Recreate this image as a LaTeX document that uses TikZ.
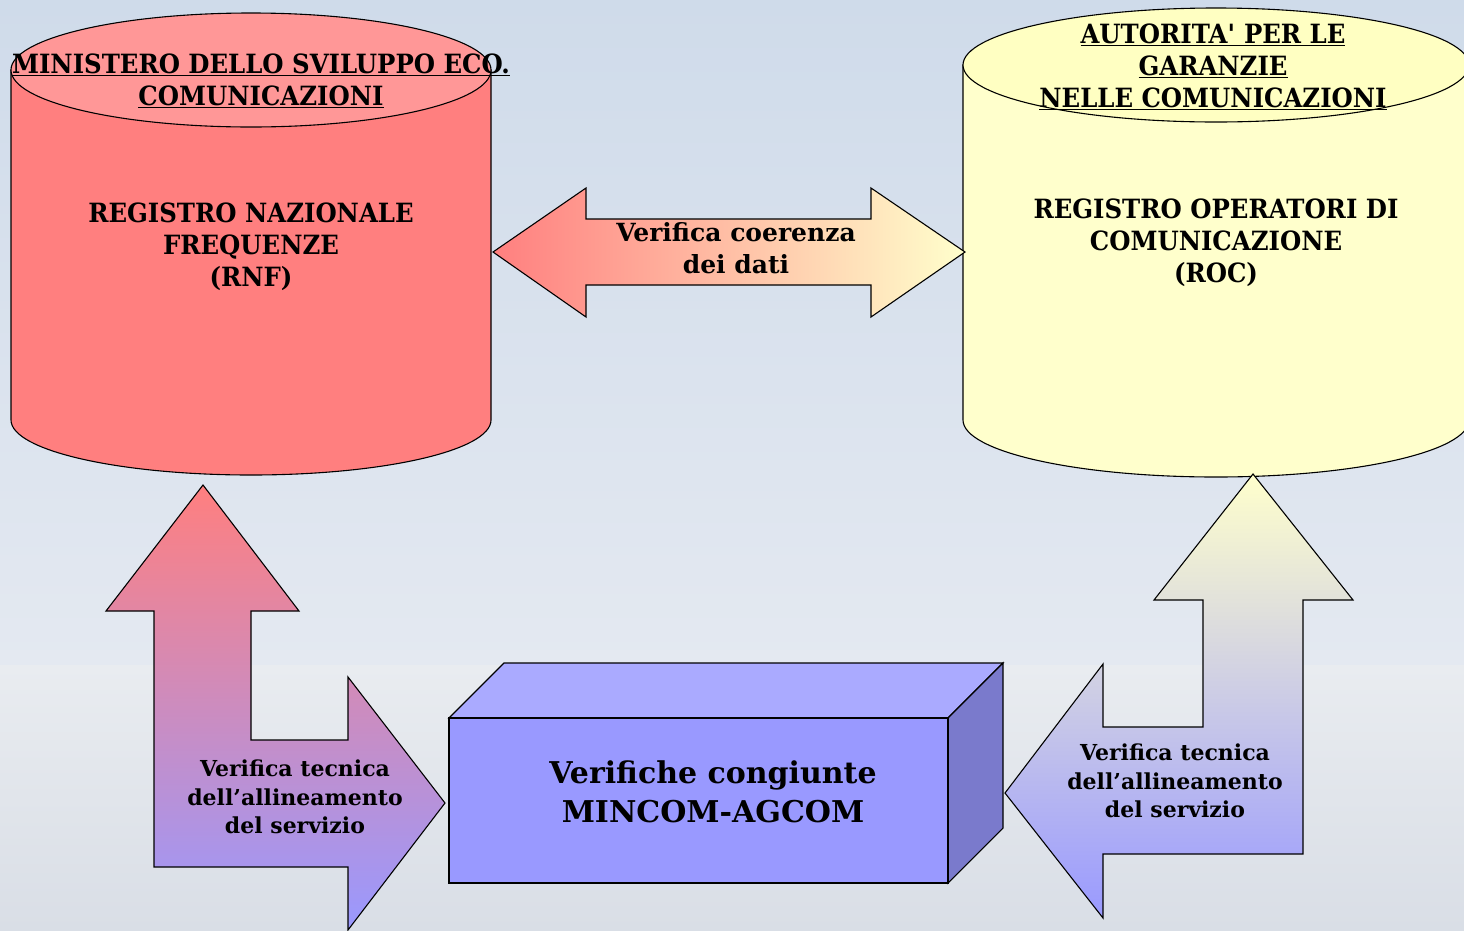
\documentclass[tikz,border=0pt]{standalone}
\usepackage{fontspec}
\setmainfont{DejaVu Serif}[FakeStretch=0.92]
\newfontfamily\widefont{DejaVu Serif}

\definecolor{rnfred}{HTML}{FF7F7F}
\definecolor{rnftop}{HTML}{FF9797}
\definecolor{rocyel}{HTML}{FFFFCC}
\definecolor{roctop}{HTML}{FFFFC2}
\definecolor{boxfront}{HTML}{9999FF}
\definecolor{boxtop}{HTML}{AAAAFF}
\definecolor{boxside}{HTML}{7A7ACC}
\definecolor{bgtop}{HTML}{CFDBEA}
\definecolor{bgmid}{HTML}{E4E9F1}
\definecolor{bglow}{HTML}{E9ECF0}
\definecolor{bgbot}{HTML}{D9DEE6}

\tikzset{
  outline/.style={draw=black, line width=1.1pt, line join=miter},
  caps/.style={align=center, font=\bfseries\fontsize{26.5}{32}\selectfont},
  dati/.style={align=center, font=\widefont\bfseries\fontsize{25}{32}\selectfont},
  tecnica/.style={align=center, font=\widefont\bfseries\fontsize{22}{28.5}\selectfont},
  congiunte/.style={align=center, font=\widefont\bfseries\fontsize{30}{39}\selectfont}
}

\begin{document}
\begin{tikzpicture}[x=1pt,y=-1pt]
        \useasboundingbox (0,0) rectangle (1464,930);
        \fill[top color=bgtop, bottom color=bgmid] (0,0) rectangle (1464,665);
        \fill[top color=bglow, bottom color=bgbot] (0,665) rectangle (1464,930);

        % cilindro RNF
        \draw[outline, fill=rnfred] (11,70) -- (11,420) arc[start angle=180, end angle=0, x radius=240, y radius=55] -- (491,70) -- cycle;
        \draw[outline, fill=rnftop] (251,70) ellipse[x radius=240, y radius=57];

        % cilindro ROC
        \draw[outline, fill=rocyel] (963,65) -- (963,420) arc[start angle=180, end angle=0, x radius=253, y radius=57] -- (1469,65) -- cycle;
        \draw[outline, fill=roctop] (1216,65) ellipse[x radius=253, y radius=57];

        \node[caps] (rnftitle) at (261,81) {\underline{MINISTERO DELLO SVILUPPO ECO.}\\\underline{COMUNICAZIONI}};
        \node[caps] (rnf) at (251,247) {REGISTRO NAZIONALE\\FREQUENZE\\(RNF)};
        \node[caps] (roctitle) at (1213,67) {\underline{AUTORITA\textquotesingle{} PER LE}\\\underline{GARANZIE}\\\underline{NELLE COMUNICAZIONI}};
        \node[caps] (roc) at (1216,243) {REGISTRO OPERATORI DI\\COMUNICAZIONE\\(ROC)};

        % freccia doppia
        \draw[outline, left color=rnfred, right color=rocyel] (493,252) -- (586,188) -- (586,219) -- (871,219) -- (871,188)
            -- (965,252) -- (871,317) -- (871,285) -- (586,285) -- (586,317) -- cycle;
        \node[dati] (coerenza) at (736,248) {Verifica coerenza\\dei dati};

        % frecce a L
        \draw[outline, top color=rnfred, bottom color=boxfront] (203,485) -- (299,611) -- (251,611) -- (251,740) -- (348,740)
            -- (348,677) -- (445,803) -- (348,930) -- (348,867) -- (154,867) -- (154,611) -- (106,611) -- cycle;
        \node[tecnica] (tecsx) at (295,797) {Verifica tecnica\\dell’allineamento\\del servizio};

        \draw[outline, top color=rocyel, bottom color=boxfront] (1253,474) -- (1353,600) -- (1303,600) -- (1303,854) -- (1103,854)
            -- (1103,918) -- (1005,793) -- (1103,664) -- (1103,727) -- (1203,727) -- (1203,600) -- (1154,600) -- cycle;
        \node[tecnica] (tecdx) at (1175,781) {Verifica tecnica\\dell’allineamento\\del servizio};

        % parallelepipedo
        \draw[outline, fill=boxtop] (449,718) -- (504,663) -- (1003,663) -- (948,718) -- cycle;
        \draw[outline, fill=boxside] (948,718) -- (1003,663) -- (1003,828) -- (948,883) -- cycle;
        \draw[outline, fill=boxfront] (449,718) rectangle (948,883);
        \node[congiunte] (mincom) at (713,792) {Verifiche congiunte\\MINCOM-AGCOM};

    \end{tikzpicture}
\end{document}
